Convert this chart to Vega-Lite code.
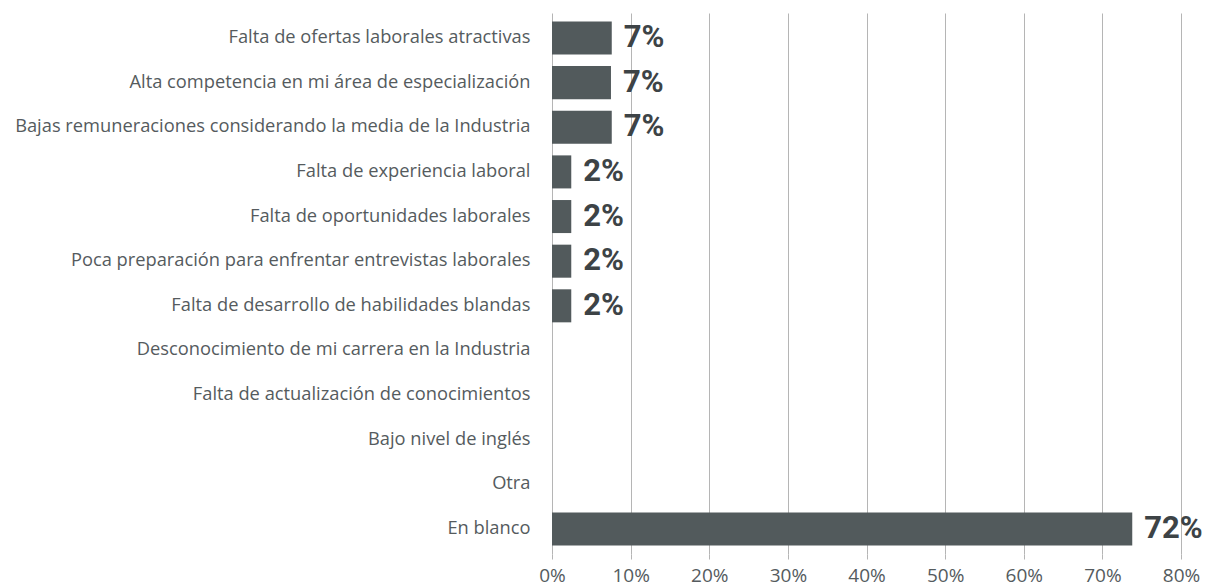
{
  "$schema": "https://vega.github.io/schema/vega-lite/v6.json",
  "width": 629,
  "height": 541,
  "autosize": {"type": "none"},
  "padding": {"left": 552, "top": 13, "right": 24, "bottom": 34},
  "background": "white",
  "config": {"view": {"stroke": null}, "font": "Open Sans"},
  "data": {
    "values": [
      {"motivo": "Falta de ofertas laborales atractivas", "valor": 7.6, "etiqueta": "7%"},
      {"motivo": "Alta competencia en mi área de especialización", "valor": 7.5, "etiqueta": "7%"},
      {"motivo": "Bajas remuneraciones considerando la media de la Industria", "valor": 7.6, "etiqueta": "7%"},
      {"motivo": "Falta de experiencia laboral", "valor": 2.45, "etiqueta": "2%"},
      {"motivo": "Falta de oportunidades laborales", "valor": 2.45, "etiqueta": "2%"},
      {"motivo": "Poca preparación para enfrentar entrevistas laborales", "valor": 2.45, "etiqueta": "2%"},
      {"motivo": "Falta de desarrollo de habilidades blandas", "valor": 2.45, "etiqueta": "2%"},
      {"motivo": "Desconocimiento de mi carrera en la Industria", "valor": 0, "etiqueta": ""},
      {"motivo": "Falta de actualización de conocimientos", "valor": 0, "etiqueta": ""},
      {"motivo": "Bajo nivel de inglés", "valor": 0, "etiqueta": ""},
      {"motivo": "Otra", "valor": 0, "etiqueta": ""},
      {"motivo": "En blanco", "valor": 73.8, "etiqueta": "72%"}
    ]
  },
  "encoding": {
    "y": {
      "field": "motivo",
      "type": "nominal",
      "sort": null,
      "scale": {"paddingInner": 0.26, "paddingOuter": 0.19},
      "axis": {
        "title": null,
        "domain": false,
        "ticks": false,
        "grid": false,
        "labelLimit": 600,
        "labelPadding": 22,
        "labelFontSize": 18.3,
        "labelColor": "#555b5e",
        "labelFont": "Open Sans"
      }
    },
    "x": {
      "field": "valor",
      "type": "quantitative",
      "scale": {"domain": [0, 80], "nice": false},
      "axis": {
        "title": null,
        "values": [0, 10, 20, 30, 40, 50, 60, 70, 80],
        "labelExpr": "datum.value + '%'",
        "labelFlush": false,
        "labelOverlap": false,
        "domain": false,
        "grid": true,
        "gridColor": "#b5b5b5",
        "gridWidth": 1,
        "ticks": true,
        "tickColor": "#b5b5b5",
        "tickSize": 5,
        "labelPadding": 7,
        "labelFontSize": 19,
        "labelColor": "#555b5e",
        "labelFont": "Open Sans"
      }
    }
  },
  "layer": [
    {"mark": {"type": "bar", "color": "#525a5c"}},
    {
      "mark": {"type": "text", "align": "left", "baseline": "middle", "dx": 12, "fontSize": 31, "fontWeight": "bold", "color": "#3d4346", "font": "Roboto"},
      "encoding": {"text": {"field": "etiqueta"}}
    }
  ]
}
